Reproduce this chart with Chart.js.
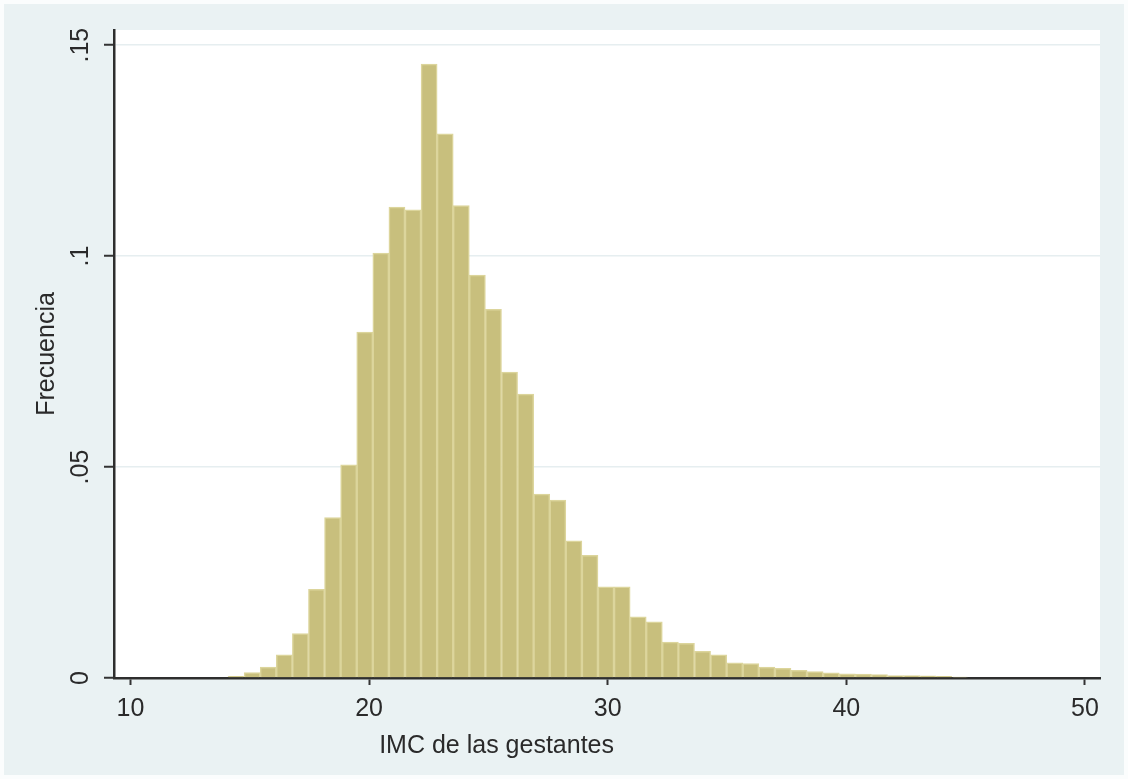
<!DOCTYPE html>
<html>
	<head>
		<meta charset="UTF-8" />
		<title>IMC de las gestantes</title>
		<style type="text/css">
			body { margin: 0; background: #ffffff; }
			.chartBox { width: 1128px; height: 779px; }
		</style>
	</head>
	<body>
		<div class="chartBox">
			<canvas id="myChart"></canvas>
		</div>
		<script src="https://cdn.jsdelivr.net/npm/chart.js"></script>
		<script>
			//data
			const binStart = 14.09;
			const binWidth = 0.674;
			const freq = [
				0.0004, 0.0013, 0.0026, 0.0055, 0.0105, 0.0210, 0.0380, 0.0505,
				0.0820, 0.1007, 0.1116, 0.1110, 0.1455, 0.1290, 0.1120, 0.0955,
				0.0874, 0.0725, 0.0673, 0.0436, 0.0422, 0.0325, 0.0291, 0.0216,
				0.0216, 0.0145, 0.0133, 0.0085, 0.0082, 0.0063, 0.0055, 0.0036,
				0.0034, 0.0026, 0.0023, 0.0018, 0.0015, 0.0012, 0.0010, 0.0009,
				0.0008, 0.0006, 0.0006, 0.0005, 0.0004, 0.0002
			];
			const xTicks = [10, 20, 30, 40, 50];
			const yTicks = [0, 0.05, 0.1, 0.15];
			const yTickLabels = ['0', '.05', '.1', '.15'];
			const xTitle = 'IMC de las gestantes';
			const yTitle = 'Frecuencia';

			//bars at bin centres
			const points = freq.map((v, i) => ({ x: binStart + binWidth * (i + 0.5), y: v }));

			const font = "'Liberation Sans', Arial, sans-serif";

			//stata-like background + x title
			const decor = {
				id: 'decor',
				beforeDraw(chart) {
					const { ctx, chartArea: a } = chart;
					ctx.save();
					ctx.fillStyle = '#fbfdfd';
					ctx.fillRect(0, 0, chart.width, chart.height);
					ctx.fillStyle = '#eaf2f3';
					ctx.fillRect(4, 4, chart.width - 8, chart.height - 8);
					ctx.fillStyle = '#ffffff';
					ctx.fillRect(a.left, a.top, a.right - a.left, a.bottom - a.top);
					ctx.restore();
				},
				afterDraw(chart) {
					const { ctx, chartArea: a } = chart;
					ctx.save();
					ctx.font = '25px ' + font;
					ctx.fillStyle = '#2a2a2a';
					ctx.textAlign = 'center';
					ctx.textBaseline = 'middle';
					ctx.fillText(xTitle, a.left + (a.right - a.left) * 0.388, 746);
					ctx.restore();
				}
			};

			const config = {
				type: 'bar',
				data: {
					datasets: [{
						data: points,
						backgroundColor: '#c8bf7d',
						borderColor: '#dcd59c',
						borderWidth: 1.5,
						barPercentage: 1,
						categoryPercentage: 1,
						grouped: false
					}]
				},
				options: {
					responsive: false,
					animation: false,
					layout: { padding: { top: 30, right: 28, left: 0, bottom: 0 } },
					plugins: {
						legend: { display: false },
						tooltip: { enabled: false }
					},
					scales: {
						x: {
							type: 'linear',
							min: 9.31,
							max: 50.63,
							offset: false,
							afterBuildTicks: s => { s.ticks = xTicks.map(v => ({ value: v })); },
							afterFit: s => { s.height = 101; },
							grid: {
								offset: false,
								drawOnChartArea: false,
								tickLength: 7,
								tickColor: '#333333',
								tickWidth: 2
							},
							border: { color: '#2e2e2e', width: 2.5 },
							ticks: {
								color: '#2a2a2a',
								font: { size: 25, family: font },
								padding: 9,
								maxRotation: 0,
								callback: v => String(v)
							}
						},
						y: {
							min: 0,
							max: 0.1536,
							afterBuildTicks: s => { s.ticks = yTicks.map(v => ({ value: v })); },
							afterFit: s => { s.width = 114; },
							grid: {
								color: '#e6eef0',
								lineWidth: 1.5,
								tickLength: 10,
								tickColor: '#333333',
								tickWidth: 2
							},
							border: { color: '#2e2e2e', width: 2.5 },
							ticks: {
								color: '#2a2a2a',
								font: { size: 25, family: font },
								padding: 6,
								minRotation: 90,
								maxRotation: 90,
								crossAlign: 'center',
								callback: (v, i) => yTickLabels[i]
							},
							title: {
								display: true,
								text: yTitle,
								color: '#2a2a2a',
								font: { size: 25, family: font },
								padding: { top: 32, bottom: 0 }
							}
						}
					}
				},
				plugins: [decor]
			};

			const canvas = document.getElementById('myChart');
			canvas.width = 1128;
			canvas.height = 779;
			const myChart = new Chart(canvas, config);
		</script>
	</body>
</html>
